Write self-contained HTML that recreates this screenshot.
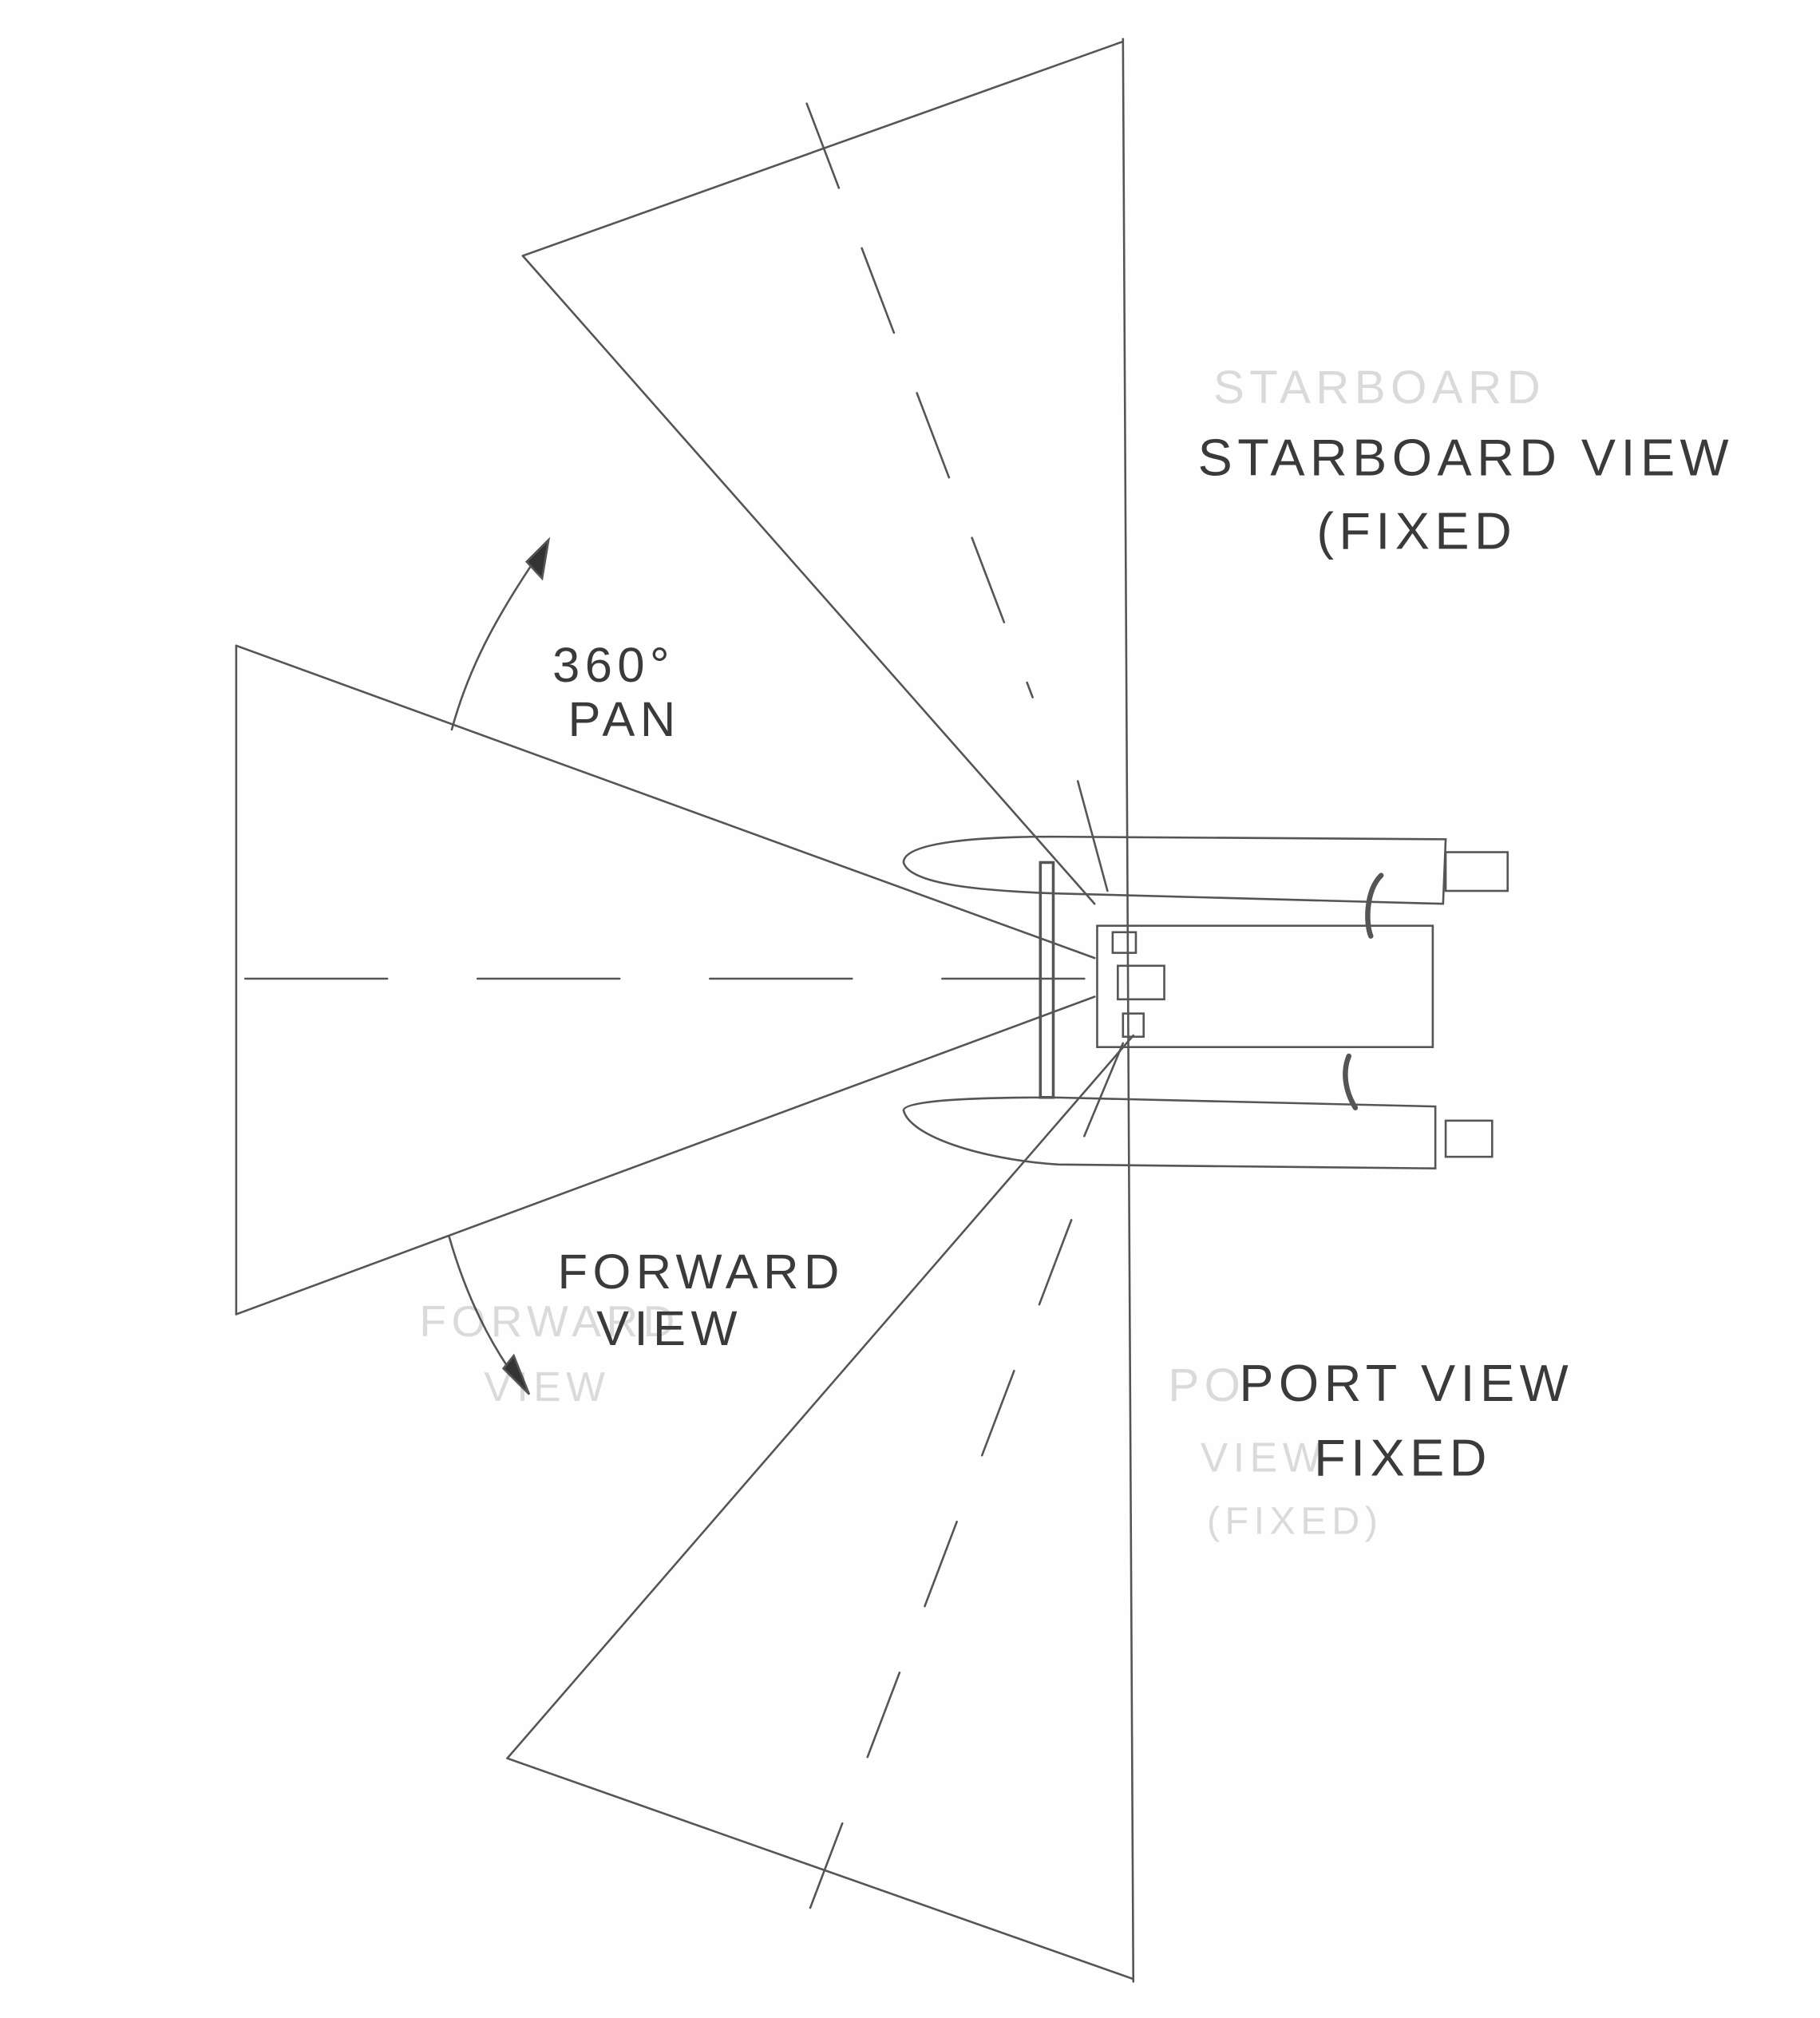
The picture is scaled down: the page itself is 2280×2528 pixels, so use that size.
<!DOCTYPE html>
<html><head><meta charset="utf-8"><style>
html,body{margin:0;padding:0;background:#fff;}
svg{display:block;}
text{font-family:"Liberation Sans",sans-serif;fill:#3a3a3a;letter-spacing:4px;}
</style></head><body>
<svg width="2280" height="2528" viewBox="0 0 1410 1563" xmlns="http://www.w3.org/2000/svg">
<rect width="1410" height="1563" fill="#fefefe"/>
<g stroke="#555" stroke-width="1.6" fill="none" stroke-linecap="round">
 <!-- vertical reference line -->
 <line x1="870" y1="30" x2="878" y2="1535"/>
 <!-- starboard cone -->
 <g>
  <line x1="405" y1="198" x2="870" y2="32"/>
  <line x1="405" y1="198" x2="848" y2="700"/>
  <line x1="625" y1="80" x2="800" y2="540" stroke-dasharray="70,50"/>
  <line x1="835" y1="605" x2="858" y2="690"/>
 </g>
 <!-- forward cone -->
 <g>
  <line x1="183" y1="500" x2="183" y2="1018"/>
  <line x1="183" y1="500" x2="848" y2="742"/>
  <line x1="183" y1="1018" x2="848" y2="772"/>
  <line x1="190" y1="758" x2="845" y2="758" stroke-dasharray="110,70"/>
 </g>
 <!-- port cone -->
 <g>
  <line x1="393" y1="1362" x2="878" y2="1533"/>
  <line x1="393" y1="1362" x2="878" y2="802"/>
  <line x1="830" y1="945" x2="625" y2="1485" stroke-dasharray="70,55"/>
  <line x1="840" y1="880" x2="870" y2="808"/>
 </g>
 <!-- boat -->
 <g>
  <path d="M815 648 C760 648 700 652 700 668 C705 685 760 690 820 692 L1118 700 L1120 650 Z"/>
  <path d="M815 850 C760 850 700 852 700 860 C705 880 760 898 820 902 L1112 905 L1112 857 Z"/>
  <rect x="850" y="717" width="260" height="94"/>
  <rect x="1120" y="660" width="48" height="30"/>
  <rect x="1120" y="868" width="36" height="28"/>
  <rect x="806" y="668" width="10" height="182" stroke-width="2.2"/>
  <rect x="862" y="722" width="18" height="16"/>
  <rect x="866" y="748" width="36" height="26"/>
  <rect x="870" y="785" width="16" height="18"/>
  <path d="M1070 678 C1058 690 1058 715 1062 725" stroke-width="4"/>
  <path d="M1045 818 C1040 830 1042 845 1050 858" stroke-width="4"/>
 </g>
 <!-- pan arrows -->
 <path d="M350 565 C365 510 390 470 420 425"/>
 <path d="M408 435 L425 418 L420 448 Z" fill="#333"/>
 <path d="M348 958 C360 1000 378 1040 405 1075"/>
 <path d="M390 1060 L410 1080 L398 1050 Z" fill="#333"/>
</g>
<text x="428" y="528" font-size="38">360°</text>
<text x="440" y="570" font-size="38">PAN</text>
<text x="928" y="368" font-size="40">STARBOARD VIEW</text>
<text x="1020" y="425" font-size="40">(FIXED</text>
<text x="432" y="998" font-size="38">FORWARD</text>
<text x="462" y="1042" font-size="38">VIEW</text>
<text x="960" y="1085" font-size="40">PORT VIEW</text>
<text x="1018" y="1143" font-size="40">FIXED</text>
<g style="opacity:0.18">
<text x="940" y="312" font-size="36">STARBOARD</text>
<text x="905" y="1085" font-size="36">PO</text>
<text x="930" y="1140" font-size="32">VIEW</text>
<text x="935" y="1188" font-size="30">(FIXED)</text>
<text x="325" y="1035" font-size="34">FORWARD</text>
<text x="375" y="1085" font-size="32">VIEW</text>
</g>
</svg>
</body></html>
